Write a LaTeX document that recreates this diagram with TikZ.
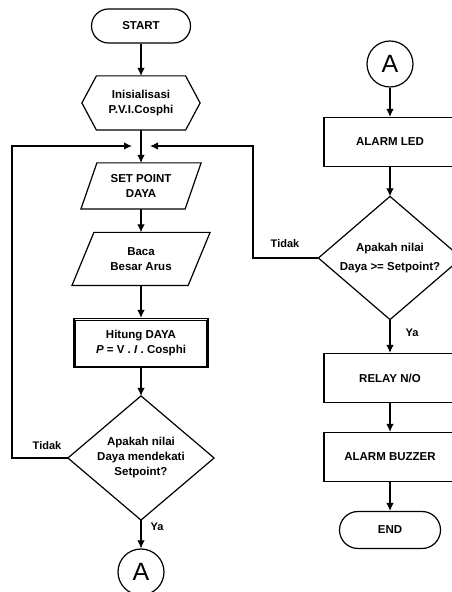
\documentclass[tikz,border=0pt]{standalone}
\usepackage{fontspec}
\setmainfont{Liberation Sans}
\usetikzlibrary{arrows.meta}

\tikzset{
  base/.style={font=\fontsize{11.5}{15}\selectfont\bfseries, align=center, line width=1.2pt},
  terminal/.style={base, draw, rounded corners=17pt, minimum width=99pt, minimum height=34pt},
  io/.style={base, minimum width=119pt, minimum height=45pt},
  proc/.style={base, draw, minimum width=132pt, minimum height=49pt},
  decision/.style={base, inner sep=0pt},
  connector/.style={draw, circle, line width=1.2pt, minimum size=46pt, inner sep=0pt, font=\fontsize{25}{25}\selectfont},
  lbl/.style={font=\fontsize{11}{12}\selectfont\bfseries},
  flow/.style={line width=1.2pt, -{Latex[length=8pt, width=7.5pt]}}
}

\begin{document}
\begin{tikzpicture}[x=1pt, y=1pt]
  \useasboundingbox (0,0) rectangle (452,592);

  % left column
  \node[terminal] (start) at (141,566) {START};
  \node[base, minimum width=117pt, minimum height=53pt] (init) at (141,489) {Inisialisasi\\P.V.I.Cosphi};
  \draw[base] ([xshift=14.5pt]init.north west) -- ([xshift=-14.5pt]init.north east) -- (init.east)
    -- ([xshift=-14.5pt]init.south east) -- ([xshift=14.5pt]init.south west) -- (init.west) -- cycle;
  \node[io] (setp) at (141,406) {SET POINT\\DAYA};
  \draw[base] ([xshift=16pt]setp.north west) -- (setp.north east) -- ([xshift=-16pt]setp.south east) -- (setp.south west) -- cycle;
  \node[io, minimum width=137pt, minimum height=52pt] (baca) at (141,333) {Baca\\Besar Arus};
  \draw[base] ([xshift=22pt]baca.north west) -- (baca.north east) -- ([xshift=-22pt]baca.south east) -- (baca.south west) -- cycle;
  \node[proc, minimum width=134pt] (hitung) at (141,249) {Hitung DAYA\\\textit{P} = V . \textit{I} . Cosphi};
  \draw[line width=0.5pt] ([shift={(2.2pt,-2.2pt)}]hitung.north west) rectangle ([shift={(-2.2pt,2.2pt)}]hitung.south east);
  \node[decision, minimum width=145pt, minimum height=123pt] (cekdekat) at (141,134) {Apakah nilai\\Daya mendekati\\Setpoint?};
  \draw[base] (cekdekat.north) -- (cekdekat.east) -- (cekdekat.south) -- (cekdekat.west) -- cycle;
  \node[connector] (conA) at (141,20) {A};

  % right column
  \node[connector] (conB) at (390,528) {A};
  \node[proc] (led) at (390,450) {ALARM LED};
  \node[decision, minimum width=142pt, minimum height=122pt] (cekset) at (390,334) {Apakah nilai\\[4pt]Daya >= Setpoint?};
  \draw[base] (cekset.north) -- (cekset.east) -- (cekset.south) -- (cekset.west) -- cycle;
  \node[proc] (relay) at (390,214) {RELAY N/O};
  \node[proc] (buzzer) at (390,135) {ALARM BUZZER};
  \node[terminal, minimum width=101pt, minimum height=37pt, rounded corners=18.5pt] (finish) at (390,62) {END};

  % merge point and loops
  \coordinate (mergeL) at (132,446);
  \coordinate (mergeR) at (150,446);
  \coordinate (loopL) at (12,446);
  \coordinate (loopR) at (253,446);

  \node[lbl] (tidakL) at (47,146) {Tidak};
  \node[lbl] (tidakR) at (285,348) {Tidak};
  \node[lbl] (yaL) at (157,65) {Ya};
  \node[lbl] (yaR) at (412,259) {Ya};

  \draw[flow] (start.south) -- (init.north);
  \draw[flow] (init.south) -- (setp.north);
  \draw[flow] (setp.south) -- (baca.north);
  \draw[flow] (baca.south) -- (hitung.north);
  \draw[flow] (hitung.south) -- (cekdekat.north);
  \draw[flow] (cekdekat.south) -- (conA.north);
  \draw[flow] (conB.south) -- (led.north);
  \draw[flow] (led.south) -- (cekset.north);
  \draw[flow] (cekset.south) -- (relay.north);
  \draw[flow] (relay.south) -- (buzzer.north);
  \draw[flow] (buzzer.south) -- (finish.north);
  \draw[flow] (cekdekat.west) -| (loopL) -- (mergeL);
  \draw[flow] (cekset.west) -| (loopR) -- (mergeR);
\end{tikzpicture}
\end{document}
